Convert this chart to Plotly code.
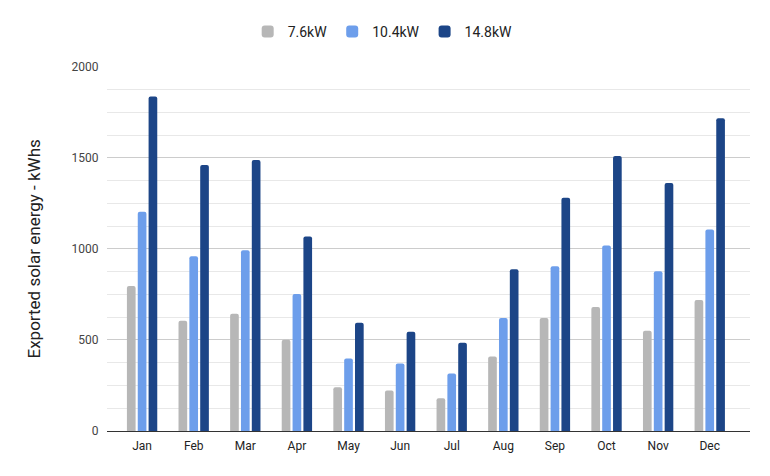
import plotly.graph_objects as go

months = ["Jan", "Feb", "Mar", "Apr", "May", "Jun", "Jul", "Aug", "Sep", "Oct", "Nov", "Dec"]
kw76 = [796, 605, 643, 501, 240, 223, 180, 409, 621, 681, 550, 719]
kw104 = [1204, 959, 992, 752, 398, 371, 316, 621, 905, 1019, 877, 1106]
kw148 = [1836, 1460, 1488, 1068, 594, 545, 485, 888, 1281, 1510, 1362, 1717]
series_names = ["7.6kW", "10.4kW", "14.8kW"]
colors = ["#b7b7b7", "#6d9eeb", "#1c4587"]

fig = go.Figure()
for name, vals, c in zip(series_names, [kw76, kw104, kw148], colors):
    fig.add_trace(go.Bar(x=months, y=vals, name=name, marker=dict(color=c, line=dict(width=0),
                         cornerradius=2)))

fig.update_layout(
    width=770, height=476,
    margin=dict(l=107, r=20, t=64, b=45),
    paper_bgcolor="white", plot_bgcolor="white",
    font=dict(family="Roboto, Arial, sans-serif", size=12, color="#222222"),
    barmode="group", bargap=0.37, bargroupgap=0.2,
    legend=dict(orientation="h", x=0.497, xanchor="center", xref="container",
                y=0.933, yref="container", yanchor="middle",
                font=dict(size=14, color="#222222"), itemwidth=30),
    xaxis=dict(range=[-0.68, 11.78], showgrid=False, showline=True, linecolor="#333333", linewidth=1,
               ticks="outside", ticklen=4, tickcolor="rgba(0,0,0,0)",
               tickfont=dict(size=12, color="#222222")),
    yaxis=dict(range=[0, 2000], tickvals=[0, 500, 1000, 1500, 2000], showgrid=True,
               gridcolor="#cccccc", zeroline=False, ticks="outside", ticklen=5,
               tickcolor="rgba(0,0,0,0)",
               minor=dict(dtick=125, tick0=0, showgrid=True, gridcolor="#e8e8e8", ticks=""),
               tickfont=dict(size=12, color="#444444"),
               title=dict(text="Exported solar energy - kWhs", font=dict(size=17, color="#222222"), standoff=26)),
)
fig.write_html("out.html")
